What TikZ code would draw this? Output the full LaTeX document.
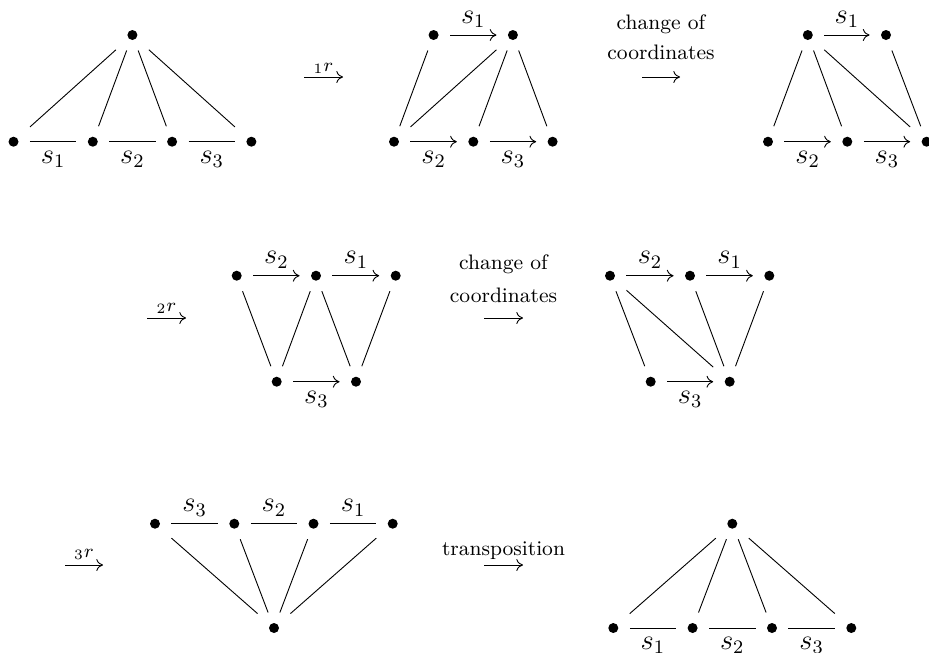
\documentclass[tikz,border=0pt]{standalone}
\usetikzlibrary{arrows.meta}
\begin{document}
\begin{tikzpicture}[x=0.42pt,y=-0.42pt,
  vtx/.style={rectangle,minimum width=13.44pt,minimum height=12.6pt,inner sep=0pt},
  ed/.style={line width=0.38pt},
  ar/.style={line width=0.38pt,-{Computer Modern Rightarrow[length=2.8pt,width=5pt]}},
  lab/.style={font=\fontsize{11.5}{14}\selectfont},
  up/.style={midway,above,inner sep=3pt,lab},
  dn/.style={midway,below,inner sep=3.7pt,lab},
  txt/.style={font=\fontsize{8.8}{11}\selectfont,anchor=base,inner sep=0pt},
  rl/.style={font=\fontsize{8}{10}\selectfont,anchor=base,inner sep=0pt}]
\useasboundingbox (0,0) rectangle (929,652);
% ---------- Row 1, diagram A
\node[vtx] (a0) at (132.4,35) {};
\node[vtx] (a1) at (13.5,141.7) {};
\node[vtx] (a2) at (92.8,141.7) {};
\node[vtx] (a3) at (172.1,141.7) {};
\node[vtx] (a4) at (251.4,141.7) {};
\draw[ed] (a0) -- (a1);
\draw[ed] (a0) -- (a2);
\draw[ed] (a0) -- (a3);
\draw[ed] (a0) -- (a4);
\draw[ed] (a1) -- node[dn] {$s_1$} (a2);
\draw[ed] (a2) -- node[dn] {$s_2$} (a3);
\draw[ed] (a3) -- node[dn] {$s_3$} (a4);
% arrow 1r
\coordinate (r1s) at (304,77);
\coordinate (r1e) at (343,77);
\draw[ar] (r1s) -- (r1e);
\node[rl] (r1l) at (323.5,71) {${}_1 r$};
% ---------- Row 1, diagram B
\node[vtx] (b1) at (433.6,35) {};
\node[vtx] (b2) at (512.9,35) {};
\node[vtx] (b3) at (394,141.7) {};
\node[vtx] (b4) at (473.3,141.7) {};
\node[vtx] (b5) at (552.6,141.7) {};
\draw[ar] (b1) -- node[up] {$s_1$} (b2);
\draw[ar] (b3) -- node[dn] {$s_2$} (b4);
\draw[ar] (b4) -- node[dn] {$s_3$} (b5);
\draw[ed] (b1) -- (b3);
\draw[ed] (b2) -- (b3);
\draw[ed] (b2) -- (b4);
\draw[ed] (b2) -- (b5);
% change of coordinates 1
\node[txt] (c1a) at (661,29.5) {change of};
\node[txt] (c1b) at (661,59.5) {coordinates};
\coordinate (c1s) at (642,77);
\coordinate (c1e) at (680,77);
\draw[ar] (c1s) -- (c1e);
% ---------- Row 1, diagram C
\node[vtx] (c1) at (807.8,35) {};
\node[vtx] (c2) at (886,35) {};
\node[vtx] (c3) at (768,141.7) {};
\node[vtx] (c4) at (847.3,141.7) {};
\node[vtx] (c5) at (926.6,141.7) {};
\draw[ar] (c1) -- node[up] {$s_1$} (c2);
\draw[ar] (c3) -- node[dn] {$s_2$} (c4);
\draw[ar] (c4) -- node[dn] {$s_3$} (c5);
\draw[ed] (c1) -- (c3);
\draw[ed] (c1) -- (c4);
\draw[ed] (c1) -- (c5);
\draw[ed] (c2) -- (c5);
% ---------- Row 2
\coordinate (r2s) at (147,318);
\coordinate (r2e) at (186,318);
\draw[ar] (r2s) -- (r2e);
\node[rl] (r2l) at (166.5,311) {${}_2 r$};
\node[vtx] (d1) at (236.7,275.7) {};
\node[vtx] (d2) at (316,275.7) {};
\node[vtx] (d3) at (395.7,275.7) {};
\node[vtx] (d4) at (276.7,381.7) {};
\node[vtx] (d5) at (356,381.7) {};
\draw[ar] (d1) -- node[up] {$s_2$} (d2);
\draw[ar] (d2) -- node[up] {$s_1$} (d3);
\draw[ar] (d4) -- node[dn] {$s_3$} (d5);
\draw[ed] (d1) -- (d4);
\draw[ed] (d2) -- (d4);
\draw[ed] (d2) -- (d5);
\draw[ed] (d3) -- (d5);
\node[txt] (c2a) at (503.5,269.5) {change of};
\node[txt] (c2b) at (503.5,302) {coordinates};
\coordinate (c2s) at (484,318);
\coordinate (c2e) at (523,318);
\draw[ar] (c2s) -- (c2e);
\node[vtx] (e1) at (610,275.7) {};
\node[vtx] (e2) at (690,275.7) {};
\node[vtx] (e3) at (769.3,275.7) {};
\node[vtx] (e4) at (650.7,381.7) {};
\node[vtx] (e5) at (729.7,381.7) {};
\draw[ar] (e1) -- node[up] {$s_2$} (e2);
\draw[ar] (e2) -- node[up] {$s_1$} (e3);
\draw[ar] (e4) -- node[dn] {$s_3$} (e5);
\draw[ed] (e1) -- (e4);
\draw[ed] (e1) -- (e5);
\draw[ed] (e2) -- (e5);
\draw[ed] (e3) -- (e5);
% ---------- Row 3
\coordinate (r3s) at (65,565);
\coordinate (r3e) at (103,565);
\draw[ar] (r3s) -- (r3e);
\node[rl] (r3l) at (84,557) {${}_3 r$};
\node[vtx] (f1) at (155,523.7) {};
\node[vtx] (f2) at (234.3,523.7) {};
\node[vtx] (f3) at (313.5,523.7) {};
\node[vtx] (f4) at (392.7,523.7) {};
\node[vtx] (f5) at (274,628) {};
\draw[ed] (f1) -- node[up] {$s_3$} (f2);
\draw[ed] (f2) -- node[up] {$s_2$} (f3);
\draw[ed] (f3) -- node[up] {$s_1$} (f4);
\draw[ed] (f1) -- (f5);
\draw[ed] (f2) -- (f5);
\draw[ed] (f3) -- (f5);
\draw[ed] (f4) -- (f5);
\node[txt] (tr) at (503.5,555.5) {transposition};
\coordinate (t3s) at (484,565);
\coordinate (t3e) at (523,565);
\draw[ar] (t3s) -- (t3e);
\node[vtx] (g0) at (732.3,523.7) {};
\node[vtx] (g1) at (613.3,628) {};
\node[vtx] (g2) at (692.6,628) {};
\node[vtx] (g3) at (772,628) {};
\node[vtx] (g4) at (851.3,628) {};
\draw[ed] (g0) -- (g1);
\draw[ed] (g0) -- (g2);
\draw[ed] (g0) -- (g3);
\draw[ed] (g0) -- (g4);
\draw[ed] (g1) -- node[dn] {$s_1$} (g2);
\draw[ed] (g2) -- node[dn] {$s_2$} (g3);
\draw[ed] (g3) -- node[dn] {$s_3$} (g4);
% dots
\foreach \n in {a0,a1,a2,a3,a4,b1,b2,b3,b4,b5,c1,c2,c3,c4,c5,d1,d2,d3,d4,d5,e1,e2,e3,e4,e5,f1,f2,f3,f4,f5,g0,g1,g2,g3,g4}
  \fill (\n) circle (2.1pt);
\end{tikzpicture}
\end{document}
